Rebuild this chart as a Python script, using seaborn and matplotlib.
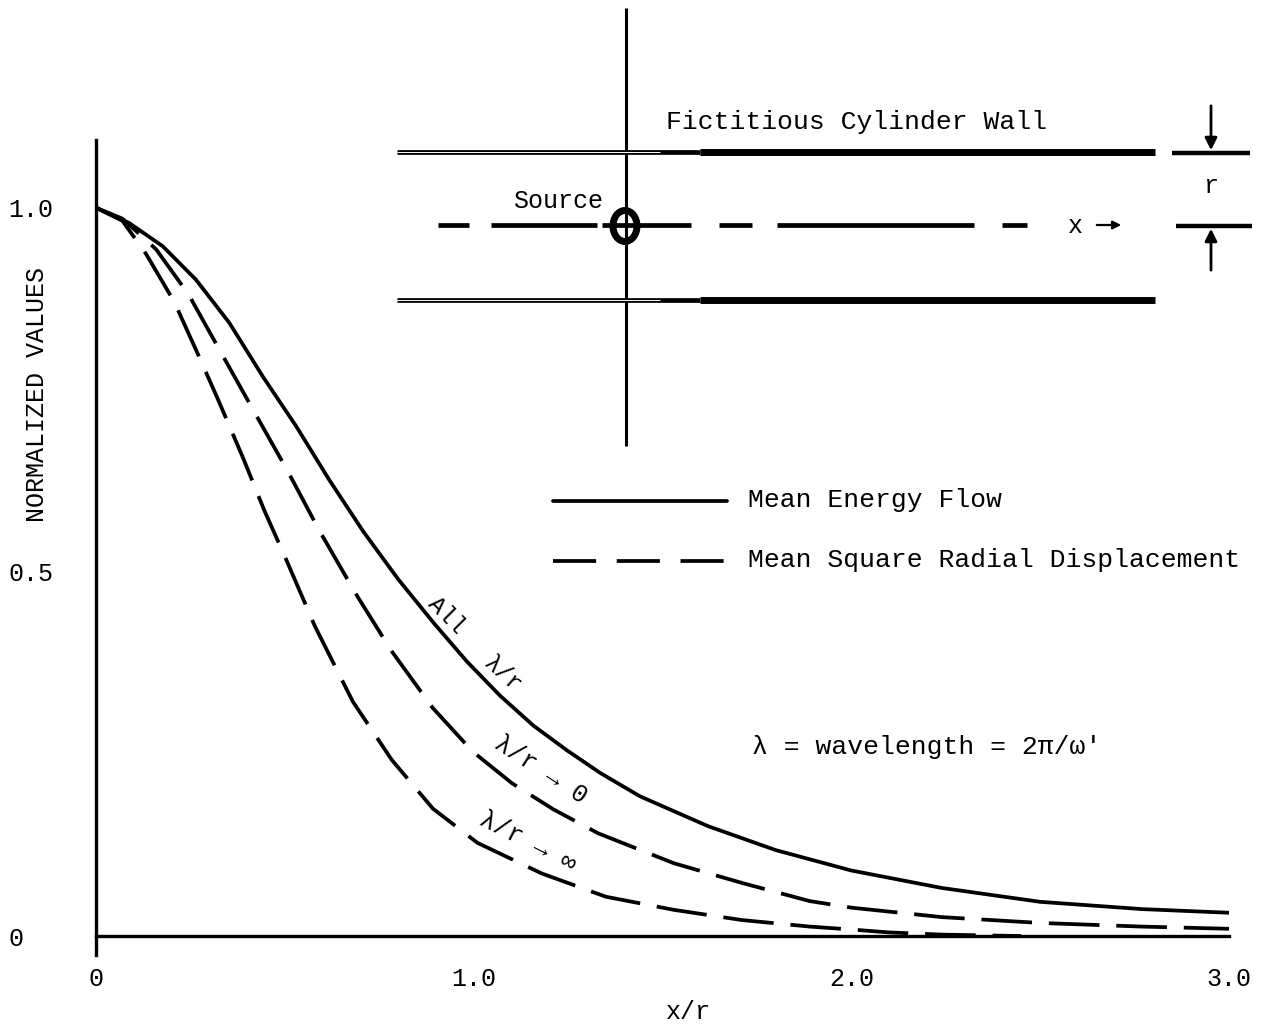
import numpy as np
import pandas as pd
import matplotlib
matplotlib.use("Agg")
import matplotlib.pyplot as plt
from matplotlib.patches import Ellipse, FancyArrowPatch
from matplotlib.lines import Line2D
import seaborn as sns

# Mean energy flow (all lambda/r)
energy_x = [0, 0.088, 0.177, 0.265, 0.353, 0.442, 0.53, 0.618, 0.707, 0.80, 0.894,
            0.982, 1.07, 1.158, 1.247, 1.335, 1.44, 1.62, 1.80, 2.00, 2.24, 2.50, 2.77, 3.00]
energy_y = [1.0, 0.979, 0.947, 0.901, 0.842, 0.768, 0.700, 0.626, 0.556, 0.490, 0.430,
            0.377, 0.330, 0.289, 0.255, 0.224, 0.192, 0.151, 0.118, 0.090, 0.066, 0.047, 0.037, 0.032]

# Mean square radial displacement, lambda/r -> 0
disp0_x = [0, 0.07, 0.159, 0.245, 0.329, 0.422, 0.508, 0.59, 0.689, 0.783, 0.892,
           0.998, 1.101, 1.211, 1.33, 1.53, 1.71, 1.89, 2.00, 2.24, 2.50, 2.77, 3.00]
disp0_y = [1.0, 0.985, 0.943, 0.881, 0.803, 0.717, 0.638, 0.558, 0.469, 0.391, 0.313,
           0.253, 0.210, 0.174, 0.141, 0.100, 0.073, 0.048, 0.039, 0.026, 0.018, 0.013, 0.010]

# Mean square radial displacement, lambda/r -> infinity
dispinf_x = [0, 0.07, 0.132, 0.207, 0.269, 0.322, 0.389, 0.446, 0.506, 0.58, 0.68, 0.783,
             0.892, 1.01, 1.18, 1.35, 1.53, 1.71, 1.89, 2.00, 2.10, 2.24, 2.45]
dispinf_y = [1.0, 0.982, 0.937, 0.871, 0.800, 0.738, 0.657, 0.584, 0.514, 0.425, 0.322, 0.242,
             0.175, 0.128, 0.086, 0.054, 0.036, 0.022, 0.013, 0.009, 0.005, 0.002, 0.0]

x_ticks = [0, 1.0, 2.0, 3.0]
x_tick_labels = ["0", "1.0", "2.0", "3.0"]
y_ticks = [0, 0.5, 1.0]
y_tick_labels = ["0", "0.5", "1.0"]

sns.set_theme(style="white")
plt.rcParams["font.family"] = ["Liberation Mono", "DejaVu Sans Mono", "DejaVu Sans"]
plt.rcParams["text.color"] = "black"

W, H = 1267, 1030
fig = plt.figure(figsize=(W / 100, H / 100), dpi=100)
ax = fig.add_axes([96 / W, 1 - 955 / H, (1229 - 96) / W, (955 - 140) / H])


def px(x, y):
    """Figure-pixel position (origin top-left) to figure fraction."""
    return (x / W, 1 - y / H)


LW = 2.7
DASH = (0, (13.5, 4.5))

energy = pd.DataFrame({"x": energy_x, "y": energy_y})
disp0 = pd.DataFrame({"x": disp0_x, "y": disp0_y})
dispinf = pd.DataFrame({"x": dispinf_x, "y": dispinf_y})

sns.lineplot(data=energy, x="x", y="y", color="black", lw=LW, ax=ax)
sns.lineplot(data=disp0, x="x", y="y", color="black", lw=LW, linestyle=DASH, ax=ax)
sns.lineplot(data=dispinf, x="x", y="y", color="black", lw=LW, linestyle=DASH, ax=ax)

ax.set_xlim(0, 3.0)
ax.set_ylim(-0.026, 1.093)
ax.spines["top"].set_visible(False)
ax.spines["right"].set_visible(False)
ax.spines["bottom"].set_position(("data", 0))
for s in ("left", "bottom"):
    ax.spines[s].set_linewidth(2.4)
    ax.spines[s].set_color("black")

ax.set_xticks(x_ticks)
ax.set_xticklabels(x_tick_labels)
ax.set_yticks(y_ticks)
ax.set_yticklabels(y_tick_labels)
ax.tick_params(axis="x", direction="out", length=14, width=2, pad=8,
               labelsize=18, colors="black")
ax.tick_params(axis="y", direction="out", length=13, width=2, pad=50,
               labelsize=18, colors="black")
for lab in ax.get_yticklabels():
    lab.set_horizontalalignment("left")

ax.set_xlabel("")
ax.set_ylabel("")
fig.text(*px(688, 1012), "x/r", ha="center", va="center", fontsize=18)
fig.text(*px(37, 395), "NORMALIZED VALUES", ha="center", va="center",
         rotation=90, fontsize=18)


def fig_to_data(x, y):
    return ax.transData.inverted().transform(fig.transFigure.transform(px(x, y)))


# curve annotations
ax.text(*fig_to_data(447, 615), "All", rotation=-45, ha="center", va="center", fontsize=17)
ax.text(*fig_to_data(503, 674), "λ/r", rotation=-42, ha="center", va="center", fontsize=17)
ax.text(*fig_to_data(541, 770), "λ/r → 0", rotation=-33, ha="center", va="center",
        fontsize=18)
ax.text(*fig_to_data(528, 842), "λ/r → ∞", rotation=-27, ha="center", va="center",
        fontsize=18)

# key
fig.add_artist(Line2D([553 / W, 727 / W], [px(0, 501)[1]] * 2, color="black",
                      lw=LW, transform=fig.transFigure))
fig.add_artist(Line2D([553 / W, 729 / W], [px(0, 561)[1]] * 2, color="black",
                      lw=LW, linestyle=(0, (11.5, 5.5)), transform=fig.transFigure))
fig.text(*px(748, 500), "Mean Energy Flow", ha="left", va="center", fontsize=19)
fig.text(*px(748, 560), "Mean Square Radial Displacement", ha="left",
         va="center", fontsize=19)
fig.text(*px(752, 747), "λ = wavelength = 2π/ω'", ha="left", va="center",
         fontsize=19)


# cylinder sketch
def seg(x0, y0, x1, y1, lw, color="black", **kw):
    a, b = px(x0, y0), px(x1, y1)
    fig.add_artist(Line2D([a[0], b[0]], [a[1], b[1]], color=color, lw=lw,
                          transform=fig.transFigure, solid_capstyle="butt", **kw))


seg(626, 8, 626, 446, 2.2)
for wy in (152, 300):
    seg(397, wy, 700, wy, 3.4)
    seg(397, wy, 660, wy, 0.7, color="white")
    seg(700, wy, 1155, wy, 5.0)
for xa, xb in [(438, 469), (491, 597), (602, 691), (719, 752), (777, 974), (1002, 1027)]:
    seg(xa, 225, xb, 225, 3.4)
fig.add_artist(Ellipse(px(625, 226), 24 / W, 31 / H, facecolor="none",
                       edgecolor="black", lw=5, transform=fig.transFigure))
fig.text(*px(666, 122), "Fictitious Cylinder Wall", ha="left", va="center",
         fontsize=19)
fig.text(*px(558, 201), "Source", ha="center", va="center", fontsize=18)
fig.text(*px(1075, 226), "x", ha="center", va="center", fontsize=18)
fig.add_artist(FancyArrowPatch(px(1094, 225), px(1124, 225), transform=fig.transFigure,
                               arrowstyle="-|>", mutation_scale=12, lw=1.6, color="black"))

seg(1172, 153, 1250, 153, 3.2)
seg(1176, 226, 1252, 226, 3.2)
fig.text(*px(1211, 186), "r", ha="center", va="center", fontsize=18)
fig.add_artist(FancyArrowPatch(px(1211, 103), px(1211, 153), transform=fig.transFigure,
                               arrowstyle="-|>", mutation_scale=18, lw=2, color="black"))
fig.add_artist(FancyArrowPatch(px(1211, 273), px(1211, 226), transform=fig.transFigure,
                               arrowstyle="-|>", mutation_scale=18, lw=2, color="black"))

fig.savefig("out.png", dpi=100, facecolor="white")
